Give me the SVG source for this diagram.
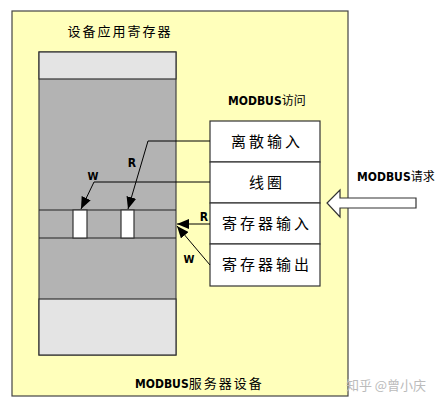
<svg xmlns="http://www.w3.org/2000/svg" width="438" height="407" viewBox="0 0 438 407">
<defs>
<style>
.ln{stroke:#000;stroke-width:1;fill:none}
.cn{font-family:"Noto Sans CJK SC","Noto Sans",sans-serif;fill:#000}
.lat{font-family:"DejaVu Sans Condensed","Liberation Sans",sans-serif;font-weight:bold;fill:#000}
.cell{fill:#fff;stroke:#333;stroke-width:1.2}
</style>
<marker id="ah" viewBox="0 0 12 10" refX="12" refY="5" markerWidth="12" markerHeight="10" markerUnits="userSpaceOnUse" orient="auto">
<path d="M0,0 L12,5 L0,10 z" fill="#000"/>
</marker>
</defs>
<rect width="438" height="407" fill="#fff"/>
<g id="server">
<rect x="12" y="11" width="336" height="385" fill="#FFFFBB" stroke="#444" stroke-width="1.2"/>
<text x="135" y="388" font-size="13"><tspan class="lat" font-size="12">MODBUS</tspan><tspan class="cn" letter-spacing="2">服务器设备</tspan></text>
</g>
<g id="app-registers">
<text class="cn" x="120" y="36" text-anchor="middle" font-size="13" letter-spacing="2">设备应用寄存器</text>
<rect x="39" y="52" width="137" height="303" fill="#B3B3B3" stroke="#444" stroke-width="1.2"/>
<rect x="39" y="52" width="137" height="27" fill="#E4E4E4" stroke="#333" stroke-width="1.2"/>
<rect x="39" y="299" width="137" height="56" fill="#E4E4E4" stroke="#333" stroke-width="1.2"/>
<line x1="39" y1="210" x2="176" y2="210" stroke="#222" stroke-width="1.2"/>
<line x1="39" y1="238" x2="176" y2="238" stroke="#222" stroke-width="1.2"/>
<rect x="73" y="210" width="14" height="28" fill="#fff" stroke="#333" stroke-width="1.2"/>
<rect x="121" y="210" width="13" height="28" fill="#fff" stroke="#333" stroke-width="1.2"/>
</g>
<g id="modbus-access">
<text x="228" y="105" font-size="12"><tspan class="lat">MODBUS</tspan><tspan class="cn">访问</tspan></text>
<rect class="cell" x="210" y="121" width="110" height="41"/>
<rect class="cell" x="210" y="162" width="110" height="41"/>
<rect class="cell" x="210" y="203" width="110" height="41"/>
<rect class="cell" x="210" y="244" width="110" height="42"/>
<text class="cn" x="267" y="147" text-anchor="middle" font-size="15" letter-spacing="3">离散输入</text>
<text class="cn" x="267" y="188" text-anchor="middle" font-size="15" letter-spacing="3">线圈</text>
<text class="cn" x="267" y="229" text-anchor="middle" font-size="15" letter-spacing="3">寄存器输入</text>
<text class="cn" x="267" y="270" text-anchor="middle" font-size="15" letter-spacing="3">寄存器输出</text>
</g>
<g id="request">
<text x="357" y="181" font-size="12"><tspan class="lat">MODBUS</tspan><tspan class="cn">请求</tspan></text>
<path d="M416,198 L340,198 L340,190 L327,203 L340,217 L340,208 L416,208 Z" fill="#fff" stroke="#333" stroke-width="1.2"/>
</g>
<g id="connectors">
<polyline class="ln" points="210,141 148,141 128,209" marker-end="url(#ah)"/>
<polyline class="ln" points="210,182 94,182 81,209" marker-end="url(#ah)"/>
<line class="ln" x1="210" y1="224" x2="177" y2="224" marker-end="url(#ah)"/>
<line class="ln" x1="210" y1="265" x2="177" y2="226" marker-end="url(#ah)"/>
<text class="lat" x="132" y="167" text-anchor="middle" font-size="12">R</text>
<text class="lat" x="93" y="180" text-anchor="middle" font-size="11">W</text>
<text class="lat" x="204" y="221" text-anchor="middle" font-size="12">R</text>
<text class="lat" x="189" y="263" text-anchor="middle" font-size="11">W</text>
</g>
<text x="386" y="390" text-anchor="middle" font-size="13" font-family="'Noto Sans CJK SC',sans-serif" fill="#BBBBBB">知乎 @曾小庆</text>
</svg>
